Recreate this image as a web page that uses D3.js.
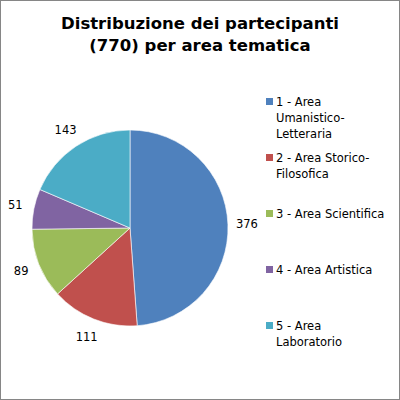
<!DOCTYPE html>
<html>
<head>
<meta charset="utf-8">
<script src="https://cdn.jsdelivr.net/npm/d3@7"></script>
<style>
  body { margin: 0; background: #fff; }
  svg { display: block; }
</style>
</head>
<body>
<div id="chart"></div>
<script>
// data
const categories = ["1 - Area Umanistico-Letteraria", "2 - Area Storico-Filosofica",
  "3 - Area Scientifica", "4 - Area Artistica", "5 - Area Laboratorio"];
const values = [376, 111, 89, 51, 143];
const legendLines = [
  ["1 - Area", "Umanistico-", "Letteraria"],
  ["2 - Area Storico-", "Filosofica"],
  ["3 - Area Scientifica"],
  ["4 - Area Artistica"],
  ["5 - Area", "Laboratorio"]
];
const titleLines = ["Distribuzione dei partecipanti", "(770) per area tematica"];
const colors = ["#4f81bd", "#c0504d", "#9bbb59", "#8064a2", "#4bacc6"];

const width = 400, height = 400;
const cx = 130, cy = 228, radius = 98;
const font = "'DejaVu Sans', Verdana, sans-serif";

const svg = d3.select("#chart")
  .append("svg")
    .attr("width", width)
    .attr("height", height);

// frame
svg.append("rect")
  .attr("x", 0.5).attr("y", 0.5)
  .attr("width", width - 1).attr("height", height - 1)
  .attr("fill", "#fff")
  .attr("stroke", "#868686");

// title
svg.append("g")
  .selectAll("text")
  .data(titleLines)
  .join("text")
    .attr("x", 200)
    .attr("y", (d, i) => 29 + i * 22)
    .attr("text-anchor", "middle")
    .attr("font-family", font)
    .attr("font-weight", "bold")
    .attr("font-size", "16.5px")
    .attr("fill", "#000")
    .text(d => d);

// pie
const color = d3.scaleOrdinal().domain(categories).range(colors);
const pie = d3.pie().sort(null).value(d => d.value);
const arc = d3.arc().innerRadius(0).outerRadius(radius);
const labelArc = d3.arc().innerRadius(radius + 19).outerRadius(radius + 19);

const slices = pie(categories.map((c, i) => ({ name: c, value: values[i] })));

const g = svg.append("g").attr("transform", `translate(${cx},${cy})`);

g.selectAll("path")
  .data(slices)
  .join("path")
    .attr("d", arc)
    .attr("fill", d => color(d.data.name))
    .attr("stroke", "#fff")
    .attr("stroke-width", 0.6);

g.selectAll("text")
  .data(slices)
  .join("text")
    .attr("transform", d => `translate(${labelArc.centroid(d)})`)
    .attr("dy", "0.35em")
    .attr("text-anchor", "middle")
    .attr("font-family", font)
    .attr("font-size", "11.5px")
    .attr("fill", "#000")
    .text(d => d.data.value);

// legend
const rowY = d3.scaleLinear().domain([0, categories.length - 1]).range([105.5, 329.5]);

const legend = svg.append("g")
  .selectAll("g")
  .data(categories)
  .join("g")
    .attr("transform", (d, i) => `translate(266,${rowY(i)})`);

legend.append("rect")
  .attr("x", 0)
  .attr("y", -7.5)
  .attr("width", 7)
  .attr("height", 7)
  .attr("fill", d => color(d));

legend.append("text")
  .attr("font-family", font)
  .attr("font-size", "11.5px")
  .attr("fill", "#000")
  .selectAll("tspan")
  .data((d, i) => legendLines[i])
  .join("tspan")
    .attr("x", 10)
    .attr("y", (d, j) => j * 16)
    .text(d => d);
</script>
</body>
</html>
